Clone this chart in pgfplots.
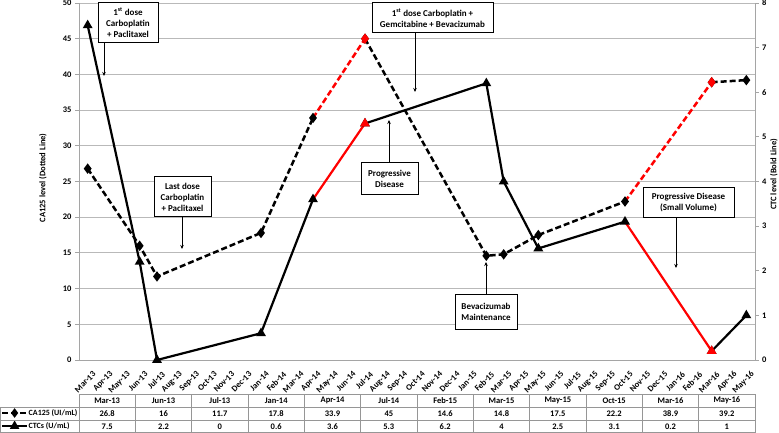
\documentclass[border=0pt]{standalone}
\usepackage{pgfplots}
\pgfplotsset{compat=1.18}
\usepackage{fontspec}
\setmainfont{Carlito}
\usetikzlibrary{arrows.meta}
\definecolor{gridgray}{RGB}{185,185,185}
\definecolor{axgray}{RGB}{165,165,165}
\definecolor{tabgray}{RGB}{150,150,150}
\newcommand{\tf}{\bfseries\fontsize{8.5}{10}\selectfont}
\newcommand{\boxf}{\bfseries\fontsize{9}{11}\selectfont}
\begin{document}
\begin{tikzpicture}[x=1pt,y=1pt]
\useasboundingbox (0,0) rectangle (779,433);
\begin{axis}[
  at={(79pt,73pt)}, anchor=south west,
  scale only axis, width=676pt, height=357pt,
  xmin=-0.5, xmax=38.5, ymin=0, ymax=50,
  axis x line*=bottom, axis y line*=left,
  axis line style={axgray, line width=0.8pt},
  clip=false,
  xtick={0,...,38},
  xticklabels={Mar-13,Apr-13,May-13,Jun-13,Jul-13,Aug-13,Sep-13,Oct-13,Nov-13,Dec-13,Jan-14,Feb-14,Mar-14,Apr-14,May-14,Jun-14,Jul-14,Aug-14,Sep-14,Oct-14,Nov-14,Dec-14,Jan-15,Feb-15,Mar-15,Apr-15,May-15,Jun-15,Jul-15,Aug-15,Sep-15,Oct-15,Nov-15,Dec-15,Jan-16,Feb-16,Mar-16,Apr-16,May-16},
  xticklabel style={rotate=45, anchor=east, inner sep=0.5pt, yshift=-11pt, xshift=-1pt, font=\tf},
  major x tick style={draw=none},
  ytick={0,5,...,50},
  yticklabel style={font=\tf},
  /pgf/number format/assume math mode=true,
  major y tick style={axgray, line width=0.8pt},
  tick align=outside, major tick length=4pt,
  ymajorgrids, grid style={gridgray, line width=0.8pt},
  ylabel={CA125 level (Dotted Line)},
  ylabel style={at={(axis description cs:-0.0533,0.51)}, anchor=center, font=\bfseries\fontsize{8.5}{10}\selectfont},
  unbounded coords=jump,
  legend style={at={(axis description cs:-0.1154,-0.1303)}, anchor=north west, draw=none, fill=none, inner sep=0pt, outer sep=0pt, row sep=0pt,
    font=\bfseries\fontsize{8}{9.5}\selectfont,
    nodes={inner sep=0.5pt, text height=6pt, text depth=1.5pt, minimum height=13pt},
    /tikz/every even column/.append style={column sep=1pt}},
  legend cell align=left,
  legend image code/.code={\draw[mark repeat=2,mark phase=2,#1] plot coordinates {(0pt,0pt) (12.5pt,0pt) (25pt,0pt)};},
]
% legend images
\addlegendimage{black, line width=2.2pt, dash pattern=on 6pt off 3pt, mark=diamond*, mark size=3pt, mark options={solid}}
\addlegendentry{CA125 (UI/mL)}
\addlegendimage{black, line width=2pt, mark=triangle*, mark size=3.5pt, mark options={solid}}
\addlegendentry{CTCs (U/mL)}
% CA125 black segments
\addplot[black, line width=2.5pt, dash pattern=on 6pt off 3pt, mark=diamond*, mark size=3.2pt, mark options={solid}, forget plot]
  coordinates {(0,26.8) (3,16) (4,11.7) (10,17.8) (13,33.9) (14.5,nan) (16,45) (23,14.6) (24,14.8) (26,17.5) (31,22.2) (33,nan) (36,38.9) (38,39.2)};
% CA125 red segments
\addplot[red, line width=2.5pt, dash pattern=on 6pt off 3pt, mark=diamond*, mark size=3.2pt, mark options={solid}, mark indices={2}, forget plot]
  coordinates {(13,33.9) (16,45)};
\addplot[red, line width=2.5pt, dash pattern=on 6pt off 3pt, mark=diamond*, mark size=3.2pt, mark options={solid}, mark indices={2}, forget plot]
  coordinates {(31,22.2) (36,38.9)};
\end{axis}
\begin{axis}[
  at={(79pt,73pt)}, anchor=south west,
  scale only axis, width=676pt, height=357pt,
  xmin=-0.5, xmax=38.5, ymin=0, ymax=8,
  axis x line=none, axis y line*=right,
  axis line style={axgray, line width=0.8pt},
  clip=false,
  ytick={0,1,...,8},
  yticklabel style={font=\tf},
  /pgf/number format/assume math mode=true,
  major y tick style={axgray, line width=0.8pt},
  tick align=outside, major tick length=3.5pt,
  ylabel={CTC level (Bold Line)},
  ylabel style={at={(axis description cs:1.028,0.52)}, anchor=center, font=\bfseries\fontsize{8.5}{10}\selectfont},
  unbounded coords=jump,
]
\addplot[black, line width=2.2pt, mark=triangle*, mark size=3.5pt]
  coordinates {(0,7.5) (3,2.2) (4,0) (10,0.6) (13,3.6) (14.5,nan) (16,5.3) (23,6.2) (24,4) (26,2.5) (31,3.1) (33,nan) (36,0.2) (38,1)};
\addplot[red, line width=2.2pt, mark=triangle*, mark size=3.5pt, mark indices={2}]
  coordinates {(13,3.6) (16,5.3)};
\addplot[red, line width=2.2pt, mark=triangle*, mark size=3.5pt, mark indices={2}]
  coordinates {(31,3.1) (36,0.2)};
\end{axis}
% annotation boxes
\tikzset{ann/.style={draw=black, line width=1pt, fill=white, align=center, font=\boxf, inner sep=1pt},
         arr/.style={line width=0.7pt, -{Stealth[length=4pt,width=3.5pt]}}}
\draw[arr] (104,390) -- (104,357);
\node[ann, minimum width=60pt, minimum height=40pt] at (128,410) {1\textsuperscript{st} dose\\Carboplatin\\+ Paclitaxel};
\draw[arr] (182,216) -- (182,184);
\node[ann, minimum width=57pt, minimum height=40pt] at (182.5,236) {Last dose\\Carboplatin\\+ Paclitaxel};
\draw[arr] (415,400) -- (415,341);
\node[ann, minimum width=121pt, minimum height=30pt] at (432.5,415) {1\textsuperscript{st} dose Carboplatin +\\Gemcitabine + Bevacizumab};
\draw[arr] (389,270) -- (389,313);
\node[ann, minimum width=57pt, minimum height=32pt] at (389.5,254) {Progressive\\Disease};
\draw[arr] (486,138) -- (486,171);
\node[ann, minimum width=62pt, minimum height=35pt] at (486,121) {Bevacizumab\\Maintenance};
\draw[arr] (676,215) -- (676,165);
\node[ann, minimum width=91pt, minimum height=30pt] at (688.5,230) {Progressive Disease\\(Small Volume)};
% data table
\draw[tabgray, line width=0.6pt] (79,39) -- (755,39);
\draw[tabgray, line width=0.6pt] (0,26) -- (755,26);
\draw[tabgray, line width=0.6pt] (0,13) -- (755,13);
\draw[tabgray, line width=0.6pt] (0,0.3) -- (755,0.3);
\draw[tabgray, line width=0.6pt] (0.3,0) -- (0.3,26);
\foreach \k in {0,...,12} {\draw[tabgray, line width=0.6pt] ({79+56.333*\k},0) -- ({79+56.333*\k},39);}
\foreach \h [count=\k from 0] in {Mar-13,Jun-13,Jul-13,Jan-14,Apr-14,Jul-14,Feb-15,Mar-15,May-15,Oct-15,Mar-16,May-16}
  {\node[font=\tf, inner sep=0pt] at ({79+56.333*(\k+0.5)},32.5) {\h};}
\foreach \h [count=\k from 0] in {26.8,16,11.7,17.8,33.9,45,14.6,14.8,17.5,22.2,38.9,39.2}
  {\node[font=\tf, inner sep=0pt] at ({79+56.333*(\k+0.5)},19.5) {\h};}
\foreach \h [count=\k from 0] in {7.5,2.2,0,0.6,3.6,5.3,6.2,4,2.5,3.1,0.2,1}
  {\node[font=\tf, inner sep=0pt] at ({79+56.333*(\k+0.5)},6.5) {\h};}
\end{tikzpicture}
\end{document}
